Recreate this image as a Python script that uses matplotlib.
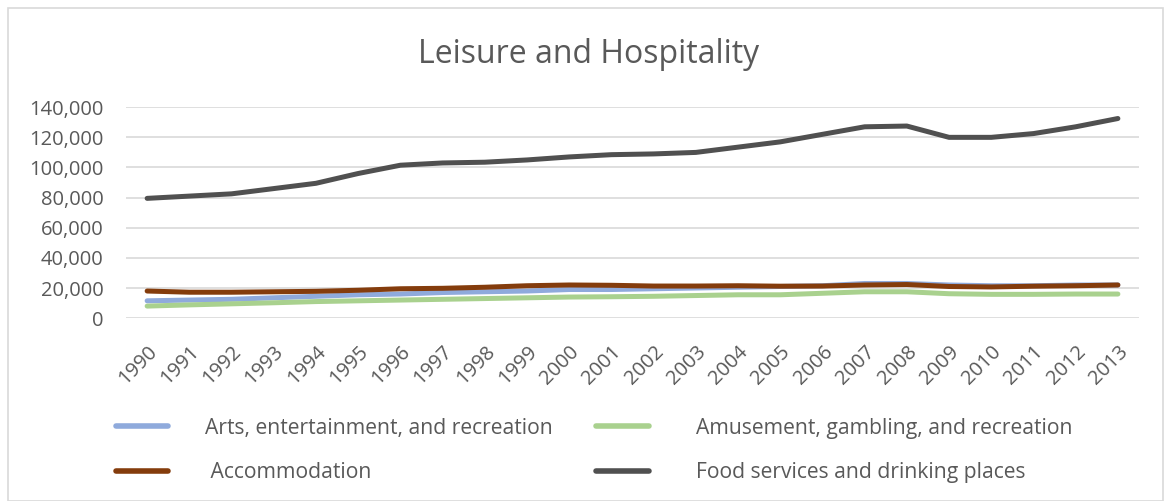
import matplotlib.pyplot as plt
import numpy as np
from matplotlib.lines import Line2D
from matplotlib.patches import Rectangle

plt.rcParams['font.family'] = ['Open Sans', 'DejaVu Sans']

years = [str(y) for y in range(1990, 2014)]
arts = [11500, 12000, 12500, 13500, 14500, 15500, 16000, 17000, 17500, 18000, 19000,
        19000, 19500, 20000, 20500, 21000, 21500, 23000, 23000, 22000, 21500, 21500, 22000, 22000]
amusement = [8000, 8800, 9500, 10200, 11000, 11500, 12000, 12500, 13000, 13500, 14000,
             14200, 14500, 15000, 15500, 15500, 16500, 17500, 17500, 16200, 15800, 15800, 16000, 16000]
accommodation = [18000, 17200, 17200, 17500, 17800, 18500, 19500, 19800, 20500, 21500, 22000,
                 21800, 21300, 21300, 21500, 21200, 21300, 22000, 22300, 21000, 20700, 21200, 21500, 22000]
food = [79500, 81000, 82500, 86000, 89500, 96000, 101500, 103000, 103500, 105000, 107000,
        108500, 109000, 110000, 113500, 117000, 122000, 127000, 127500, 120000, 120000, 122500, 127000, 132500]

names = ["Arts, entertainment, and recreation", "Amusement, gambling, and recreation",
         " Accommodation", "Food services and drinking places"]
colors = ["#8FAADC", "#A9D18E", "#843C0C", "#505050"]

fig = plt.figure(figsize=(11.67, 5.01), dpi=100)
ax = fig.add_axes([0.108, 0.365, 0.868, 0.421])

x = np.arange(len(years))
for vals, c in zip([arts, amusement, accommodation, food], colors):
    ax.plot(x, vals, color=c, lw=3.6, solid_capstyle='round', solid_joinstyle='round')

ax.set_xlim(-0.5, len(years) - 0.5)
ax.set_ylim(0, 140000)
ax.set_yticks(range(0, 140001, 20000))
ax.set_yticklabels(["{:,}".format(v) for v in range(0, 140001, 20000)])
ax.set_xticks(x)
ax.set_xticklabels(years, rotation=45, ha='right', rotation_mode='anchor')
ax.tick_params(axis='both', length=0, labelsize=14.5, labelcolor='#595959')
ax.tick_params(axis='y', pad=16)
ax.tick_params(axis='x', pad=17)
ax.grid(True, axis='y', color='#D9D9D9', lw=1.2)
ax.set_axisbelow(True)
for s in ax.spines.values():
    s.set_visible(False)

fig.text(0.504, 0.892, "Leisure and Hospitality", ha='center', va='center',
         fontsize=23, color='#595959')

# two legend columns
h = [Line2D([], [], color=c, lw=4, solid_capstyle='round') for c in colors]
kw = dict(loc='upper left', frameon=False, fontsize=15.2, handlelength=2.5,
          labelspacing=1.12, labelcolor='#595959', borderaxespad=0, borderpad=0)
leg1 = fig.legend([h[0], h[2]], [names[0], names[2]], bbox_to_anchor=(0.099, 0.166),
                  handletextpad=1.75, **kw)
leg2 = fig.legend([h[1], h[3]], [names[1], names[3]], bbox_to_anchor=(0.511, 0.166),
                  handletextpad=2.2, **kw)

fig.patches.append(Rectangle((0.007, 0.0), 0.99, 0.985, transform=fig.transFigure,
                             fill=False, edgecolor='#D9D9D9', lw=1.2))

plt.savefig("out.png")
